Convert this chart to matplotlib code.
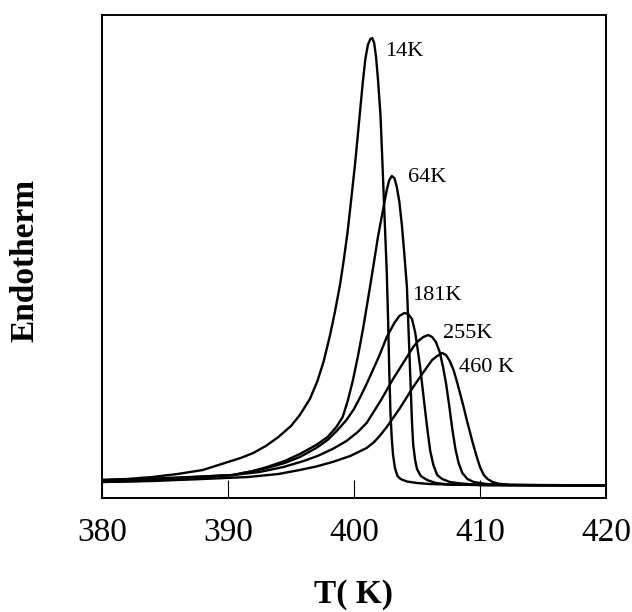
import matplotlib
matplotlib.use("Agg")
import matplotlib.pyplot as plt

plt.rcParams['font.family'] = ['Liberation Serif', 'DejaVu Serif']

# Data: temperature (K) and endotherm signal (arb. units)
T_14 = [380, 382, 384, 386, 388, 390, 391, 392, 393, 394, 395, 395.7, 396.5, 397.1,
        397.6, 398.1, 398.5, 398.9, 399.2, 399.5, 399.8, 400.1, 400.4, 400.7, 400.9,
        401.1, 401.3, 401.45, 401.6, 401.75, 401.9, 402.0, 402.1, 402.2, 402.3,
        402.45, 402.6, 402.7, 402.8, 402.9, 403.0, 403.1, 403.25, 403.45, 403.7,
        404.2, 405, 406, 408, 410, 420]
E_14 = [7, 8, 10, 13, 17, 25, 29, 34, 41, 50, 61, 72, 88, 106,
        126, 152, 176, 203, 228, 256, 290, 325, 365, 405, 428,
        442, 448, 449, 444, 430, 408, 390, 372, 342, 310,
        262, 215, 170, 115, 72, 48, 32, 19, 11, 8,
        5.5, 4, 3, 2.3, 2, 1.5]

T_64 = [380, 383, 386, 388, 390.4, 392, 393.1, 394.5, 395.7, 397, 397.9, 398.6,
        399.1, 399.5, 399.9, 400.3, 400.7, 401.1, 401.5, 401.9, 402.3, 402.6,
        402.8, 403.0, 403.2, 403.4, 403.6, 403.8, 404.0, 404.2, 404.35, 404.5,
        404.6, 404.7, 404.85, 405.0, 405.3, 405.8, 406.5, 407.5, 410, 420]
E_64 = [7, 8, 9.5, 10.5, 12, 16, 20, 26, 33, 42, 50, 60,
        70, 86, 106, 130, 157, 187, 218, 250, 277, 297,
        307, 311, 309, 300, 285, 262, 232, 200, 150, 100,
        65, 42, 27, 18, 11, 7, 4, 2.5, 2, 1.5]

T_181 = [380, 383, 386, 388, 390.4, 392, 393.1, 394.5, 395.7, 397, 397.9, 398.7,
         399.4, 400, 400.5, 401, 401.5, 402, 402.6, 403.2, 403.6, 404.0, 404.3,
         404.6, 404.85, 405.05, 405.25, 405.45, 405.65, 405.85, 406.05, 406.3,
         406.6, 407, 407.6, 408.5, 410, 420]
E_181 = [6, 7, 9, 10.5, 12, 16, 19, 24, 30, 39, 47, 57,
         67, 78, 90, 103, 117, 131, 150, 164, 171, 174, 173,
         168, 155, 138, 120, 98, 76, 55, 36, 22,
         12, 8, 5, 3.5, 2, 1.5]

T_255 = [380, 383, 386, 388, 390.4, 392.5, 394.4, 396, 397.1, 398.3, 399.4, 400.3,
         401, 401.6, 402.1, 402.6, 403.1, 403.65, 404.2, 404.7, 405.1, 405.5,
         405.9, 406.2, 406.5, 406.8, 407.05, 407.3, 407.55, 407.8, 408.05, 408.3,
         408.6, 409, 409.5, 410.5, 412, 420]
E_255 = [5, 6, 8, 9.5, 12, 15, 20, 26, 31, 38, 46, 55,
         64, 76, 86, 97, 108, 119, 130, 140, 146, 150,
         152, 150, 145, 135, 121, 104, 82, 58, 38, 24,
         14, 8, 5, 3, 2, 1.5]

T_460 = [380, 384, 388, 391.6, 394, 395.7, 397, 398.3, 399.7, 401, 401.6, 402.1,
         402.6, 403.1, 403.65, 404.2, 404.7, 405.3, 405.8, 406.2, 406.6, 407.0,
         407.3, 407.6, 407.9, 408.2, 408.45, 408.7, 408.95, 409.2, 409.45, 409.7,
         410, 410.3, 410.6, 411, 411.5, 412.5, 420]
E_460 = [5, 6, 8, 10, 13, 17, 20.5, 25, 31, 39, 45, 52,
         60, 69, 79, 90, 100, 111, 120, 127, 131, 134,
         132, 126, 117, 104, 92, 80, 67, 55, 43, 32,
         20, 12, 8, 5, 3.2, 2.2, 1.5]

labels = ["14K", "64K", "181K", "255K", "460 K"]
label_T = [402.46, 404.29, 404.6, 407.06, 408.33]
label_E = [436, 310, 192, 154, 119]

x_ticks = [380, 390, 400, 410, 420]

series = [(T_14, E_14), (T_64, E_64), (T_181, E_181), (T_255, E_255), (T_460, E_460)]

fig = plt.figure(figsize=(6.32, 6.12), dpi=100)
ax = fig.add_axes([102/632, 1-498/612, 504/632, 483/612])

for T, E in series:
    ax.plot(T, E, color='black', lw=1.7, solid_joinstyle='round')

for lab, tx, ty in zip(labels, label_T, label_E):
    ax.text(tx, ty, lab, fontsize=16, ha='left', va='center')

ax.set_xlim(380, 420)
ax.set_ylim(-11, 472)
ax.set_xticks(x_ticks)
ax.set_xticklabels([str(v) for v in x_ticks])
ax.set_yticks([])
ax.tick_params(axis='x', direction='in', length=13, width=0.8, labelsize=24, pad=14)
for s in ax.spines.values():
    s.set_linewidth(1.4)

fig.text(25/632, 1-260/612, "Endotherm", rotation=90, fontsize=24,
         fontweight='bold', ha='center', va='center')
fig.text(354/632, 1-595/612, "T( K)", fontsize=24, fontweight='bold',
         ha='center', va='center')

fig.savefig("out.png", dpi=100)
